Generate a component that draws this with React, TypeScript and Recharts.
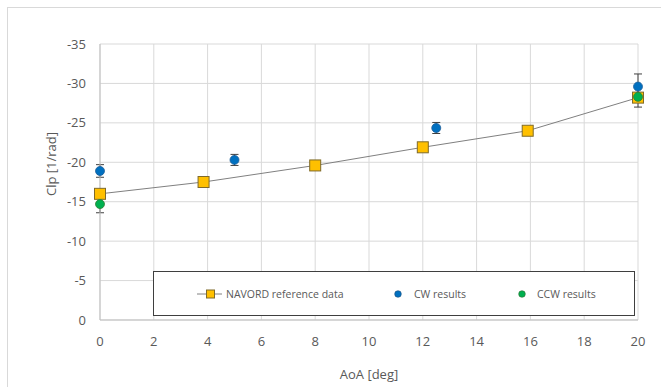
import { ComposedChart, Line, Scatter, ErrorBar, XAxis, YAxis, CartesianGrid, Legend, Label } from "recharts";

// NAVORD reference curve
const navordAoa = [0, 3.85, 8, 12, 15.9, 20];
const navordClp = [-16.0, -17.5, -19.6, -21.9, -24.0, -28.2];

// CW results with error
const cwAoa = [0, 5, 12.5, 20];
const cwClp = [-18.9, -20.3, -24.35, -29.6];
const cwErr = [0.8, 0.7, 0.7, 1.6];

// CCW results with error
const ccwAoa = [0, 20];
const ccwClp = [-14.7, -28.3];
const ccwErr = [1.1, 1.3];

const xTicks = [0, 2, 4, 6, 8, 10, 12, 14, 16, 18, 20];
const yTicks = [-35, -30, -25, -20, -15, -10, -5, 0];

const navordData = navordAoa.map((x, i) => ({ x, y: navordClp[i] }));
const cwData = cwAoa.map((x, i) => ({ x, y: cwClp[i], err: cwErr[i] }));
const ccwData = ccwAoa.map((x, i) => ({ x, y: ccwClp[i], err: ccwErr[i] }));

const FONT = "'Open Sans', 'Liberation Sans', sans-serif";
const TEXT = "#595959";
const SQ_FILL = "#ffc000";
const SQ_STROKE = "#7f6a2a";
const CW_FILL = "#0070c0";
const CCW_FILL = "#00b050";

const squareShape = (props: any) => {
  const { cx, cy } = props;
  return <rect x={cx - 5.5} y={cy - 5.5} width={11} height={11} fill={SQ_FILL} stroke={SQ_STROKE} strokeWidth={1} />;
};

const dotShape = (fill: string, stroke: string) => (props: any) => {
  const { cx, cy } = props;
  return <circle cx={cx} cy={cy} r={4.5} fill={fill} stroke={stroke} strokeWidth={0.8} />;
};

// y title sits a bit above the plot centre, like the original
const YTitle = (props: any) => {
  const { viewBox } = props;
  const x = viewBox.x + 43;
  const y = viewBox.y + viewBox.height / 2 - 18;
  return (
    <text x={x} y={y} transform={`rotate(-90 ${x} ${y})`} textAnchor="middle" dominantBaseline="central" fontFamily={FONT} fontSize={13} fill={TEXT}>
      Clp [1/rad]
    </text>
  );
};

const LegendBox = () => (
  <div style={{ width: 480, height: 43, border: "1px solid #3f3f3f", background: "#fff", boxSizing: "content-box" }}>
    <svg width={480} height={43} style={{ display: "block" }}>
      <line x1={43} x2={68} y1={22} y2={22} stroke="#808080" strokeWidth={1} />
      <rect x={52.5} y={18} width={8} height={8} fill={SQ_FILL} stroke={SQ_STROKE} strokeWidth={1} />
      <text x={72} y={22} dy="0.35em" fontFamily={FONT} fontSize={10.5} fill={TEXT}>NAVORD reference data</text>
      <circle cx={244} cy={22} r={3.3} fill={CW_FILL} stroke="#1f4e79" strokeWidth={0.6} />
      <text x={260} y={22} dy="0.35em" fontFamily={FONT} fontSize={10.5} fill={TEXT}>CW results</text>
      <circle cx={368} cy={22} r={3.3} fill={CCW_FILL} stroke="#2e6b2e" strokeWidth={0.6} />
      <text x={383} y={22} dy="0.35em" fontFamily={FONT} fontSize={10.5} fill={TEXT}>CCW results</text>
    </svg>
  </div>
);

export default function App() {
  return (
    <div
      style={{
        position: "fixed",
        left: 7,
        top: 7,
        width: 660,
        height: 390,
        borderTop: "1px solid #d9d9d9",
        borderLeft: "1px solid #d9d9d9",
        background: "#fff",
        overflow: "hidden",
      }}
    >
      <ComposedChart width={653} height={380} margin={{ top: 36, right: 23, left: 0, bottom: 0 }}>
        <CartesianGrid stroke="#d9d9d9" strokeWidth={1} />
        <XAxis
          type="number"
          dataKey="x"
          domain={[0, 20]}
          ticks={xTicks}
          interval={0}
          height={68}
          tickLine={false}
          tickSize={0}
          tickMargin={17}
          axisLine={{ stroke: "#bfbfbf" }}
          tick={{ fill: TEXT, fontSize: 13, fontFamily: FONT }}
        >
          <Label value="AoA [deg]" position="insideBottom" offset={9} fill={TEXT} fontSize={13} fontFamily={FONT} />
        </XAxis>
        <YAxis
          type="number"
          dataKey="y"
          domain={[-35, 0]}
          reversed
          ticks={yTicks}
          interval={0}
          width={92}
          tickLine={false}
          tickSize={0}
          tickMargin={14}
          axisLine={{ stroke: "#bfbfbf" }}
          tick={{ fill: TEXT, fontSize: 13, fontFamily: FONT }}
        >
          <Label content={YTitle} />
        </YAxis>
        <Line
          data={navordData}
          dataKey="y"
          type="linear"
          stroke="#808080"
          strokeWidth={1}
          dot={false}
          activeDot={false}
          isAnimationActive={false}
          legendType="none"
        />
        <Scatter data={navordData} dataKey="y" shape={squareShape} isAnimationActive={false} name="NAVORD reference data" />
        <Scatter data={cwData} dataKey="y" shape={dotShape(CW_FILL, "#1f5f99")} isAnimationActive={false} name="CW results">
          <ErrorBar dataKey="err" direction="y" width={4} stroke="#404040" strokeWidth={1} />
        </Scatter>
        <Scatter data={ccwData} dataKey="y" shape={dotShape(CCW_FILL, "#2e7d32")} isAnimationActive={false} name="CCW results">
          <ErrorBar dataKey="err" direction="y" width={4} stroke="#404040" strokeWidth={1} />
        </Scatter>
        <Legend
          layout="horizontal"
          verticalAlign="middle"
          align="center"
          content={<LegendBox />}
          wrapperStyle={{ left: 145, top: 263, width: 482, height: 45 }}
        />
      </ComposedChart>
    </div>
  );
}
